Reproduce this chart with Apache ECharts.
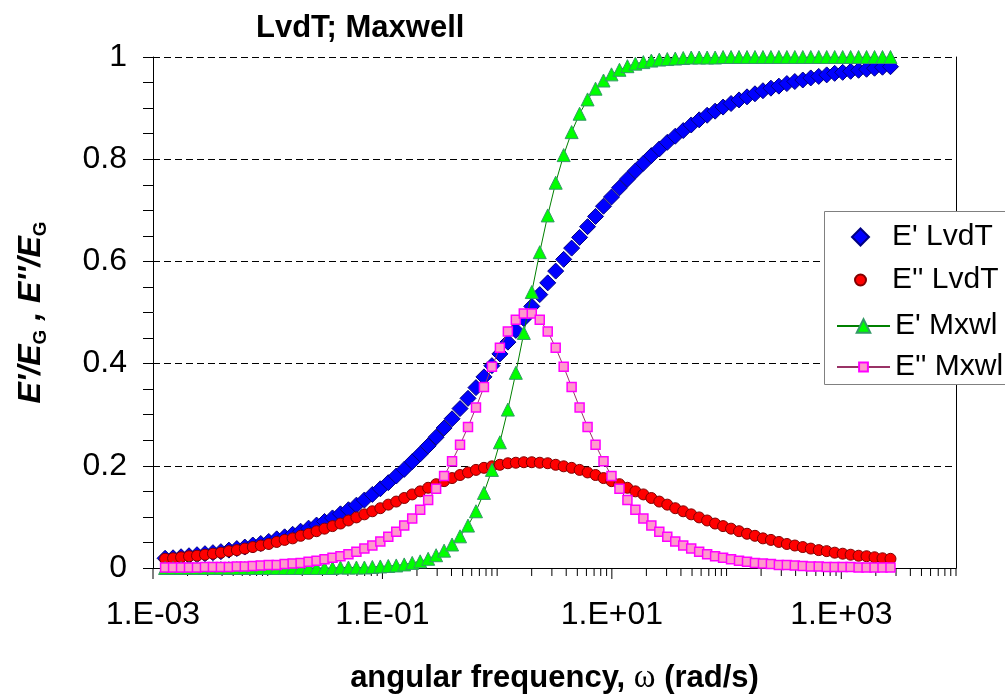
<!DOCTYPE html>
<html>
<head>
<meta charset="utf-8">
<title>LvdT; Maxwell</title>
<script src="https://cdn.jsdelivr.net/npm/echarts@6/dist/echarts.min.js"></script>
<style>
    html, body { margin: 0; padding: 0; background: #fff; }
    #box1 { width: 1005px; height: 696px; }
</style>
</head>
<body>
<div id="box1"></div>
<script>
// angular frequency (rad/s)
var omega = [
    0.001275, 0.001496, 0.001756, 0.002060, 0.002418, 0.002838, 0.003330, 0.003908, 0.004586, 0.005381,
    0.006315, 0.007411, 0.008697, 0.01021, 0.01198, 0.01405, 0.01649, 0.01935, 0.02271, 0.02665,
    0.03128, 0.03671, 0.04307, 0.05055, 0.05932, 0.06961, 0.08169, 0.09587, 0.1125, 0.1320,
    0.1549, 0.1818, 0.2134, 0.2504, 0.2938, 0.3448, 0.4046, 0.4748, 0.5572, 0.6539,
    0.7673, 0.9005, 1.057, 1.240, 1.455, 1.708, 2.004, 2.352, 2.760, 3.239,
    3.801, 4.460, 5.234, 6.142, 7.208, 8.459, 9.926, 11.65, 13.67, 16.04,
    18.83, 22.09, 25.92, 30.42, 35.70, 41.90, 49.17, 57.70, 67.71, 79.45,
    93.24, 109.4, 128.4, 150.7, 176.8, 207.5, 243.5, 285.8, 335.4, 393.5,
    461.8, 542.0, 636.0, 746.3, 875.8, 1028, 1206, 1415, 1661, 1949,
    2287, 2684
];
// E'/EG  LvdT
var storageLvdT = [
    0.019, 0.020, 0.022, 0.024, 0.026, 0.028, 0.030, 0.032, 0.035, 0.038,
    0.041, 0.045, 0.048, 0.052, 0.057, 0.061, 0.066, 0.072, 0.078, 0.084,
    0.091, 0.098, 0.106, 0.114, 0.123, 0.133, 0.144, 0.155, 0.167, 0.180,
    0.193, 0.208, 0.223, 0.239, 0.256, 0.274, 0.292, 0.312, 0.332, 0.353,
    0.374, 0.396, 0.419, 0.442, 0.465, 0.488, 0.512, 0.535, 0.558, 0.581,
    0.604, 0.626, 0.647, 0.668, 0.688, 0.708, 0.726, 0.744, 0.761, 0.777,
    0.792, 0.807, 0.820, 0.833, 0.845, 0.856, 0.867, 0.877, 0.886, 0.894,
    0.902, 0.909, 0.916, 0.922, 0.928, 0.934, 0.939, 0.943, 0.948, 0.952,
    0.955, 0.959, 0.962, 0.965, 0.968, 0.970, 0.972, 0.974, 0.976, 0.978,
    0.980, 0.981
];
// E''/EG  LvdT
var lossLvdT = [
    0.018, 0.019, 0.021, 0.023, 0.024, 0.026, 0.028, 0.030, 0.033, 0.035,
    0.038, 0.041, 0.044, 0.047, 0.051, 0.055, 0.058, 0.063, 0.067, 0.072,
    0.077, 0.082, 0.087, 0.093, 0.099, 0.105, 0.111, 0.117, 0.124, 0.130,
    0.137, 0.144, 0.150, 0.157, 0.164, 0.170, 0.176, 0.182, 0.187, 0.192,
    0.196, 0.199, 0.202, 0.205, 0.206, 0.207, 0.207, 0.206, 0.205, 0.202,
    0.199, 0.196, 0.192, 0.187, 0.182, 0.176, 0.170, 0.164, 0.157, 0.150,
    0.144, 0.137, 0.130, 0.124, 0.117, 0.111, 0.105, 0.099, 0.093, 0.087,
    0.082, 0.077, 0.072, 0.067, 0.063, 0.058, 0.055, 0.051, 0.047, 0.044,
    0.041, 0.038, 0.035, 0.033, 0.030, 0.028, 0.026, 0.024, 0.023, 0.021,
    0.019, 0.018
];
// E'/EG  Maxwell
var storageMxwl = [
    0, 0, 0, 0, 0, 0, 0, 0, 0, 0,
    0, 0, 0, 0, 0, 0, 0, 0, 0, 0,
    0, 0, 0.001, 0.001, 0.001, 0.001, 0.002, 0.003, 0.004, 0.005,
    0.007, 0.010, 0.013, 0.018, 0.025, 0.034, 0.046, 0.062, 0.083, 0.111,
    0.147, 0.192, 0.246, 0.310, 0.382, 0.460, 0.540, 0.618, 0.690, 0.754,
    0.808, 0.853, 0.889, 0.917, 0.938, 0.954, 0.966, 0.975, 0.982, 0.987,
    0.990, 0.993, 0.995, 0.996, 0.997, 0.998, 0.999, 0.999, 0.999, 0.999,
    1, 1, 1, 1, 1, 1, 1, 1, 1, 1,
    1, 1, 1, 1, 1, 1, 1, 1, 1, 1,
    1, 1
];
// E''/EG  Maxwell
var lossMxwl = [
    0.001, 0.001, 0.001, 0.001, 0.001, 0.002, 0.002, 0.002, 0.002, 0.003,
    0.003, 0.004, 0.005, 0.006, 0.006, 0.008, 0.009, 0.010, 0.012, 0.014,
    0.017, 0.020, 0.023, 0.027, 0.032, 0.038, 0.044, 0.052, 0.061, 0.071,
    0.083, 0.097, 0.114, 0.133, 0.155, 0.180, 0.209, 0.241, 0.276, 0.314,
    0.354, 0.394, 0.431, 0.463, 0.486, 0.498, 0.498, 0.486, 0.463, 0.431,
    0.394, 0.354, 0.314, 0.276, 0.241, 0.209, 0.180, 0.155, 0.133, 0.114,
    0.097, 0.083, 0.071, 0.061, 0.052, 0.044, 0.038, 0.032, 0.027, 0.023,
    0.020, 0.017, 0.014, 0.012, 0.010, 0.009, 0.008, 0.006, 0.006, 0.005,
    0.004, 0.003, 0.003, 0.002, 0.002, 0.002, 0.002, 0.001, 0.001, 0.001,
    0.001, 0.001
];
var seriesNames = ["E' LvdT", "E'' LvdT", "E' Mxwl", "E'' Mxwl"];

// x axis labels (log, every 2 decades)
var xLabelExps = [-3, -1, 1, 3];
var xTickLabels = ['1.E-03', '1.E-01', '1.E+01', '1.E+03'];
// x axis tick marks
var xDecades = [0.001, 0.01, 0.1, 1, 10, 100, 1000];
var xMinorSteps = [2, 3, 4, 5, 6, 7, 8, 9];
var xMajorTicks = [0.001, 0.1, 10, 1000];

var font = '"Liberation Sans", Arial, sans-serif';

function pairs(xs, ys) {
    return xs.map(function (x, i) { return [x, ys[i]]; });
}

var tickData = [];
xDecades.forEach(function (b) {
    tickData.push([b, 0, xMajorTicks.indexOf(b) >= 0 ? 11 : 8]);
    xMinorSteps.forEach(function (m) { tickData.push([b * m, 0, 8]); });
});
tickData.push([10000, 0, 8]);

// one legend per row so each symbol keeps its own size
var legendLefts = [851, 854, 836, 836];
var legendTops = [222, 265, 311, 352];
var legendIconSizes = [17, 11, 17, 11];
var legendIcons = ['path://M0,-1L1,0L0,1L-1,0Z', 'circle', null, null];
var legends = seriesNames.map(function (name, i) {
    var item = { name: name };
    if (legendIcons[i]) {
        item.icon = legendIcons[i];
    }
    return {
        orient: 'vertical',
        left: legendLefts[i],
        top: legendTops[i],
        padding: 0,
        itemWidth: 53,
        itemHeight: legendIconSizes[i],
        symbolKeepAspect: true,
        textStyle: { fontFamily: font, fontSize: 30, color: '#000' },
        data: [item]
    };
});

var chart = echarts.init(document.getElementById('box1'));
var option = {
    backgroundColor: '#fff',
    animation: false,
    title: {
        text: 'LvdT; Maxwell',
        left: 251,
        top: 8,
        textStyle: { fontFamily: font, fontSize: 31, fontWeight: 'bold', color: '#000' }
    },
    grid: { left: 153, right: 49, top: 57, bottom: 128, outerBoundsMode: 'none', containLabel: false },
    legend: legends,
    graphic: [{
        // legend frame
        type: 'rect',
        z: 3,
        shape: { x: 824.5, y: 211.5, width: 200, height: 173 },
        style: { fill: '#fff', stroke: '#808080', lineWidth: 1 }
    }],
    xAxis: {
        type: 'log',
        logBase: 10,
        min: 0.001,
        max: 10000,
        splitNumber: 7,
        axisLine: { onZero: false, lineStyle: { color: '#000', width: 1 } },
        axisTick: { show: false },
        splitLine: { show: false },
        axisLabel: {
            fontFamily: font, fontSize: 32, color: '#000', margin: 31,
            formatter: function (v) {
                var e = Math.round(Math.log(v) / Math.LN10);
                var i = xLabelExps.indexOf(e);
                return i >= 0 ? xTickLabels[i] : '';
            }
        },
        name: '{t|angular frequency, }{w|ω}{t| (rad/s)}',
        nameLocation: 'middle',
        nameGap: 94,
        nameTextStyle: {
            rich: {
                t: { fontFamily: font, fontSize: 31, fontWeight: 'bold', color: '#000' },
                w: { fontFamily: '"Liberation Serif", serif', fontSize: 33, color: '#000' }
            }
        }
    },
    yAxis: [{
        type: 'value',
        min: 0,
        max: 1,
        interval: 0.2,
        axisLine: { show: true, onZero: false, lineStyle: { color: '#000', width: 1 } },
        axisTick: { show: true, length: 10, lineStyle: { color: '#000' } },
        minorTick: { show: true, splitNumber: 4, length: 10, lineStyle: { color: '#000' } },
        splitLine: { show: true, lineStyle: { color: '#000', width: 1, type: [7, 4] } },
        axisLabel: { fontFamily: font, fontSize: 32, color: '#000', margin: 26 },
        name: "{a|E'/E}{b|G}{a| , E''/E}{b|G}",
        nameLocation: 'middle',
        nameGap: 106,
        nameTextStyle: {
            rich: {
                a: { fontFamily: font, fontSize: 32, fontWeight: 'bold', fontStyle: 'italic', color: '#000' },
                b: { fontFamily: font, fontSize: 19, fontWeight: 'bold', color: '#000', verticalAlign: 'bottom', padding: [0, 0, -3, 0] }
            }
        }
    }, {
        // right frame line
        type: 'value',
        min: 0,
        max: 1,
        position: 'right',
        axisLine: { show: true, onZero: false, lineStyle: { color: '#000', width: 1 } },
        axisTick: { show: false },
        axisLabel: { show: false },
        splitLine: { show: false }
    }],
    series: [{
        name: seriesNames[0],
        type: 'scatter',
        symbol: 'diamond',
        symbolSize: 16,
        itemStyle: { color: '#0000ff', borderColor: '#000080', borderWidth: 1, opacity: 1 },
        data: pairs(omega, storageLvdT)
    }, {
        name: seriesNames[1],
        type: 'scatter',
        symbol: 'circle',
        symbolSize: 11,
        itemStyle: { color: '#ff0000', borderColor: '#800000', borderWidth: 1, opacity: 1 },
        data: pairs(omega, lossLvdT)
    }, {
        name: seriesNames[2],
        type: 'line',
        symbol: 'triangle',
        symbolSize: 13,
        showAllSymbol: true,
        lineStyle: { color: '#008000', width: 1 },
        itemStyle: { color: '#00ff00', borderColor: '#339966', borderWidth: 1 },
        data: pairs(omega, storageMxwl)
    }, {
        name: seriesNames[3],
        type: 'line',
        symbol: 'rect',
        symbolSize: 9,
        showAllSymbol: true,
        lineStyle: { color: '#993366', width: 1 },
        itemStyle: { color: '#ff99cc', borderColor: '#ff00ff', borderWidth: 1.5 },
        data: pairs(omega, lossMxwl)
    }, {
        // log tick marks under the x axis
        type: 'custom',
        silent: true,
        encode: { x: 0, y: 1 },
        renderItem: function (params, api) {
            var p = api.coord([api.value(0), 0]);
            return {
                type: 'line',
                shape: { x1: p[0], y1: p[1], x2: p[0], y2: p[1] + api.value(2) },
                style: { stroke: '#000', lineWidth: 1 }
            };
        },
        data: tickData
    }]
};
chart.setOption(option);
</script>
</body>
</html>
